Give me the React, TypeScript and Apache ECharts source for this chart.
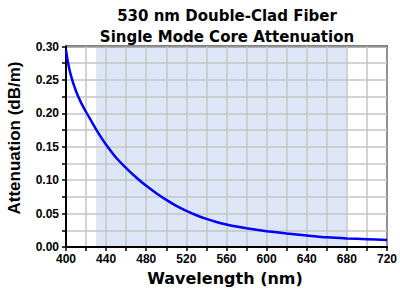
import React, { useEffect, useRef } from "react";
import * as echarts from "echarts";

// Wavelength (nm) and core attenuation (dB/m)
const wavelengths = [400, 402, 405, 410, 415, 420, 425, 430, 435, 440, 450, 460, 470, 480, 490, 500, 510, 520, 530, 540, 550, 560, 570, 580, 590, 600, 620, 640, 660, 680, 700, 720];
const attenuation = [0.295, 0.276, 0.256, 0.233, 0.216, 0.202, 0.189, 0.176, 0.164, 0.153, 0.1335, 0.118, 0.104, 0.0915, 0.0805, 0.0705, 0.0615, 0.054, 0.0475, 0.042, 0.0375, 0.0338, 0.0306, 0.028, 0.0257, 0.0237, 0.0202, 0.0173, 0.0145, 0.0128, 0.0117, 0.0105];
// Specified operating band
const bandStart = 430;
const bandEnd = 680;
const titleLines = ["530 nm Double-Clad Fiber", "Single Mode Core Attenuation"];
const xName = "Wavelength (nm)";
const yName = "Attenuation (dB/m)";

const FONT = "'Liberation Sans', Arial, sans-serif";
const WIDE_FONT = "'DejaVu Sans', Verdana, sans-serif";

export default function App() {
  const ref = useRef<HTMLDivElement>(null);
  useEffect(() => {
    if (!ref.current) return;
    const chart = echarts.init(ref.current, undefined, { renderer: "svg" });
    const axisCommon = {
      z: 2,
      axisLine: { show: true, lineStyle: { color: "#000", width: 2 } },
      axisTick: { show: true, length: 4, lineStyle: { color: "#000", width: 1.5 } },
      splitLine: { show: true, lineStyle: { color: "#c4c4c4", width: 1.5 } },
    };
    chart.setOption({
      animation: false,
      backgroundColor: "#ffffff",
      textStyle: { fontFamily: FONT },
      grid: {
        left: 66,
        right: 13,
        top: 46.5,
        bottom: 42,
        show: true,
        z: 2,
        borderColor: "#000",
        borderWidth: 2,
        backgroundColor: "transparent",
      },
      graphic: [
        {
          type: "text",
          x: 227,
          y: 5,
          style: {
            text: titleLines.join("\n"),
            fontFamily: WIDE_FONT,
            fontWeight: "bold",
            fontSize: 15,
            lineHeight: 21,
            fill: "#000",
            align: "center",
          },
        },
        {
          type: "text",
          x: 225,
          y: 278,
          style: {
            text: xName,
            fontFamily: WIDE_FONT,
            fontWeight: "bold",
            fontSize: 16,
            fill: "#000",
            align: "center",
            verticalAlign: "middle",
          },
        },
        {
          type: "text",
          x: 14,
          y: 138,
          rotation: Math.PI / 2,
          style: {
            text: yName,
            fontFamily: FONT,
            fontWeight: "bold",
            fontSize: 17,
            fill: "#000",
            align: "center",
            verticalAlign: "middle",
          },
        },
      ],
      xAxis: {
        ...axisCommon,
        type: "value",
        min: 400,
        max: 720,
        interval: 20,
        axisLabel: {
          color: "#000",
          fontWeight: "bold",
          fontSize: 12,
          margin: 6,
          formatter: (v: number) => (v % 40 === 0 ? String(v) : ""),
        },
      },
      yAxis: {
        ...axisCommon,
        type: "value",
        min: 0,
        max: 0.3,
        interval: 0.025,
        axisLabel: {
          color: "#000",
          fontWeight: "bold",
          fontSize: 12,
          margin: 7,
          formatter: (v: number) => {
            const r = Math.round(v * 1000);
            return r % 50 === 0 ? (r / 1000).toFixed(2) : "";
          },
        },
      },
      series: [
        {
          // shaded band, kept beneath the grid lines
          type: "line",
          data: [],
          z: 0,
          markArea: {
            silent: true,
            z: 0,
            itemStyle: { color: "#dde6f7" },
            data: [[{ xAxis: bandStart }, { xAxis: bandEnd }]],
          },
        },
        {
          type: "line",
          data: wavelengths.map((w, i) => [w, attenuation[i]]),
          smooth: 0.25,
          showSymbol: false,
          lineStyle: { color: "#0000ff", width: 2.5 },
          z: 3,
        },
      ],
    });
    return () => chart.dispose();
  }, []);
  return (
    <div
      ref={ref}
      style={{ position: "fixed", left: 0, top: 0, width: 400, height: 289 }}
    />
  );
}
